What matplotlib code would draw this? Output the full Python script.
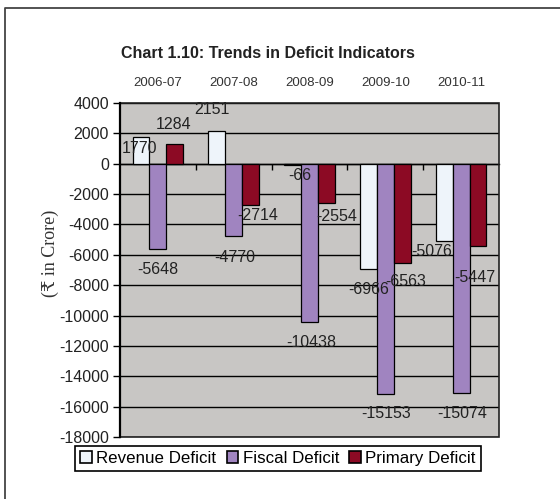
import matplotlib.pyplot as plt
import numpy as np
from matplotlib.patches import Rectangle
from matplotlib.lines import Line2D

plt.rcParams['font.family'] = ['Liberation Sans', 'DejaVu Sans']
plt.rcParams['axes.unicode_minus'] = False

years = ['2006-07', '2007-08', '2008-09', '2009-10', '2010-11']
revenue = [1770, 2151, -66, -6966, -5076]
fiscal = [-5648, -4770, -10438, -15153, -15074]
primary = [1284, -2714, -2554, -6563, -5447]

# label nudges (pixels) so the numbers sit like in the printed chart
rev_off = [(-2, -12), (-5, 22), (7, -11), (0, -20), (-13, -11)]
fis_off = [(0, -20), (1, -21), (2, -20), (1, -20), (1, -21)]
pri_off = [(-1, 20), (7, -11), (10, -14), (4, -18), (-3, -31)]

fig = plt.figure(figsize=(5.6, 4.99), dpi=100)
ax = fig.add_axes([120/560, 1-437/499, 379/560, 334/499])
ax.set_facecolor('#c8c6c4')

x = np.arange(len(years))
w = 0.222
series = [
    (revenue, '#eef4fa', 'Revenue Deficit', rev_off),
    (fiscal, '#a084c0', 'Fiscal Deficit', fis_off),
    (primary, '#8c0a24', 'Primary Deficit', pri_off),
]
handles = []
for i, (vals, col, name, offs) in enumerate(series):
    xs = x + (i - 1) * w
    ax.bar(xs, vals, width=w, color=col, edgecolor='black', linewidth=0.9, zorder=3)
    handles.append(Rectangle((0, 0), 1, 1, facecolor=col, edgecolor='black', linewidth=1.2))
    for xi, v, (dx, dy) in zip(xs, vals, offs):
        ax.annotate(str(v), (xi, v), xytext=(dx, dy), textcoords='offset pixels',
                    ha='center', va='center', fontsize=11.5, color='#222222', zorder=4)

ax.set_xlim(-0.5, 4.5)
ax.set_ylim(-18000, 4000)
ax.set_yticks(np.arange(-18000, 4001, 2000))
ax.yaxis.grid(True, color='black', linewidth=1.0, zorder=1)
ax.set_axisbelow(True)
ax.tick_params(axis='y', direction='out', length=5, width=1, labelsize=11.5,
               colors='black', labelcolor='#222222', pad=3)

# category axis sits on the zero line, labels go on top
for s in ['top', 'right', 'left']:
    ax.spines[s].set_visible(False)
ax.spines['bottom'].set_position(('data', 0))
ax.spines['bottom'].set_linewidth(1.0)
ax.set_xticks(x)
ax.set_xticks(np.arange(0.5, 4.5, 1.0), minor=True)
ax.tick_params(axis='x', which='major', length=0, labelbottom=False)
ax.tick_params(axis='x', which='minor', direction='out', length=4, width=1)
top = ax.secondary_xaxis('top')
top.set_xticks(x)
top.set_xticklabels(years)
top.tick_params(length=0, pad=10, labelsize=9.5, labelcolor='#333333')
top.spines['top'].set_visible(False)

ax.add_patch(Rectangle((0, 0), 1, 1, transform=ax.transAxes, fill=False,
                       edgecolor='#222222', linewidth=1.2, clip_on=False, zorder=5))
ax.plot([0, 0], [0, 1], transform=ax.transAxes, color='black', lw=1.6,
        clip_on=False, zorder=6)

ax.set_ylabel('(₹ in Crore)', family=['Liberation Serif', 'DejaVu Serif', 'DejaVu Sans'],
              fontsize=13, color='#333333')
ax.yaxis.set_label_coords(-0.162, 0.55)

fig.text(0.478, 1-53/499, 'Chart 1.10: Trends in Deficit Indicators',
         ha='center', va='center', fontsize=11.5, fontweight='bold', color='#222222')

leg = fig.legend(handles, [s[2] for s in series], loc='center', ncol=3,
                 bbox_to_anchor=(278/560, 1-458.5/499), fontsize=12.2,
                 fancybox=False, edgecolor='black', framealpha=1,
                 handlelength=0.7, handleheight=0.7, handletextpad=0.25,
                 columnspacing=0.6, borderpad=0.3)
leg.get_frame().set_linewidth(1.2)

fig.add_artist(Line2D([5/560, 5/560, 1], [0, 1-8/499, 1-8/499],
                      transform=fig.transFigure, color='#444444', lw=1.3))

fig.savefig('out.png', dpi=100)
